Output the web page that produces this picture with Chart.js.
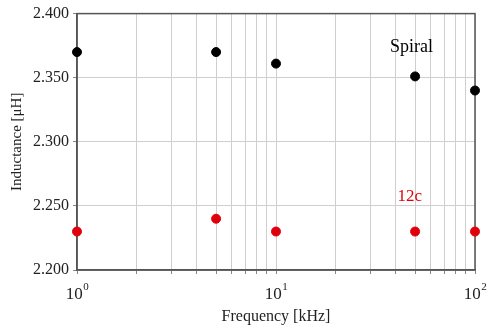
<!DOCTYPE html>
<html>
<head>
<meta charset="utf-8">
<script src="https://cdn.jsdelivr.net/npm/chart.js@4.4.0/dist/chart.umd.min.js"></script>
<style>
html, body { margin: 0; padding: 0; background: #fff; }
</style>
</head>
<body>
<canvas id="chartCanvas" width="487" height="329"></canvas>
<script>
// data
const frequencies = [1, 5, 10, 50, 100];
const spiralValues = [2.370, 2.370, 2.361, 2.351, 2.340];
const c12Values = [2.230, 2.240, 2.230, 2.230, 2.230];
const xTickValues = [1, 2, 3, 4, 5, 6, 7, 8, 9, 10, 20, 30, 40, 50, 60, 70, 80, 90, 100];
const xDecades = [1, 10, 100];
const seriesNames = ["Spiral", "12c"];
const seriesNameAt = [[48, 2.374], [47, 2.257]];

const serif = "'Liberation Serif', 'DejaVu Serif', serif";
const colors = ["#000000", "#e0000c"];

const frameAndLabels = {
  id: "frameAndLabels",
  beforeDatasetsDraw(chart) {
    const { ctx, chartArea: a } = chart;
    ctx.save();
    ctx.strokeStyle = "#555";
    ctx.lineWidth = 1.5;
    ctx.strokeRect(a.left, a.top, a.right - a.left, a.bottom - a.top);
    ctx.restore();
  },
  afterDatasetsDraw(chart) {
    const { ctx, scales, chartArea: a } = chart;
    ctx.save();
    // series names
    ctx.textAlign = "center";
    ctx.textBaseline = "middle";
    seriesNames.forEach((name, i) => {
      ctx.font = (i === 0 ? "18px " : "17px ") + serif;
      ctx.fillStyle = colors[i];
      ctx.fillText(name, scales.x.getPixelForValue(seriesNameAt[i][0]), scales.y.getPixelForValue(seriesNameAt[i][1]));
    });
    // decade labels 10^n with a raised exponent
    ctx.fillStyle = "#222";
    ctx.textBaseline = "alphabetic";
    xDecades.forEach(v => {
      const x = scales.x.getPixelForValue(v);
      const exp = String(Math.round(Math.log10(v)));
      ctx.font = "17px " + serif;
      const w1 = ctx.measureText("10").width;
      ctx.font = "11px " + serif;
      const w2 = ctx.measureText(exp).width;
      const x0 = x - (w1 + w2) / 2;
      ctx.textAlign = "left";
      ctx.font = "17px " + serif;
      ctx.fillText("10", x0, a.bottom + 29);
      ctx.font = "11px " + serif;
      ctx.fillText(exp, x0 + w1 + 0.5, a.bottom + 20);
    });
    ctx.restore();
  }
};

const toPoints = vals => frequencies.map((f, i) => ({ x: f, y: vals[i] }));

const ctx = document.getElementById("chartCanvas").getContext("2d");
const chart = new Chart(ctx, {
  type: "scatter",
  data: {
    datasets: [
      { label: seriesNames[0], data: toPoints(spiralValues), backgroundColor: colors[0], borderColor: colors[0], pointRadius: 4.5, clip: false },
      { label: seriesNames[1], data: toPoints(c12Values), backgroundColor: colors[1], borderColor: colors[1], pointRadius: 4.5, clip: false }
    ]
  },
  options: {
    responsive: false,
    animation: false,
    layout: { padding: { top: 12, right: 12, left: 0, bottom: 0 } },
    plugins: { legend: { display: false }, tooltip: { enabled: false } },
    scales: {
      x: {
        type: "logarithmic",
        min: 1,
        max: 100,
        afterBuildTicks: axis => { axis.ticks = xTickValues.map(v => ({ value: v })); },
        afterFit: axis => { axis.height = 59; },
        ticks: {
          autoSkip: false,
          maxRotation: 0,
          callback: () => ""
        },
        grid: { color: "#cfcfcf", lineWidth: 1, tickLength: 4, tickColor: "#888" },
        border: { color: "#555", width: 1.5 },
        title: { display: true, text: "Frequency [kHz]", color: "#222", font: { family: serif, size: 16 }, padding: { top: 0, bottom: 3 } }
      },
      y: {
        min: 2.2,
        max: 2.4,
        afterFit: axis => { axis.width = 77; },
        ticks: {
          stepSize: 0.05,
          color: "#222",
          padding: 4,
          font: { family: serif, size: 16 },
          callback: v => v.toFixed(3)
        },
        grid: { color: "#cfcfcf", lineWidth: 1, tickLength: 4, tickColor: "#888" },
        border: { color: "#555", width: 1.5 },
        title: { display: true, text: "Inductance [\u03bcH]", color: "#222", font: { family: serif, size: 15 }, padding: { top: 8, bottom: 0 } }
      }
    }
  },
  plugins: [frameAndLabels]
});
</script>
</body>
</html>
